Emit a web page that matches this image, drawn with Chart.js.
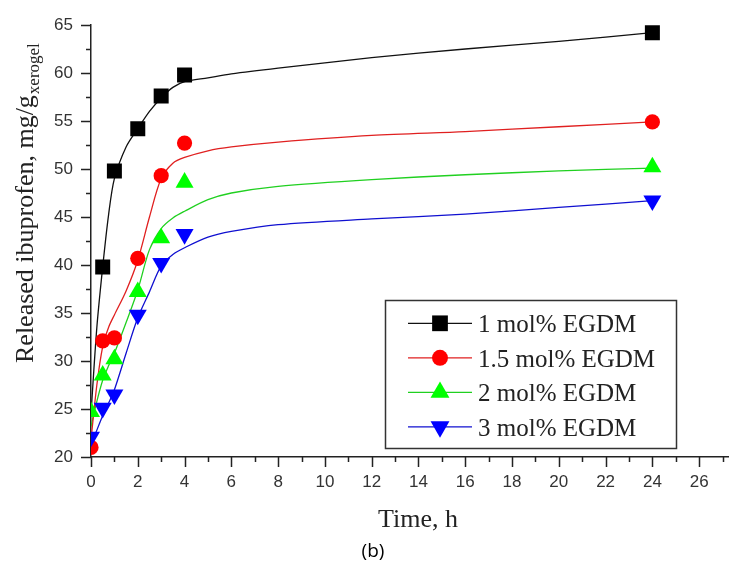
<!DOCTYPE html>
<html><head><meta charset="utf-8">
<script src="https://cdn.jsdelivr.net/npm/chart.js@4.4.1/dist/chart.umd.min.js"></script>
<style>html,body{margin:0;padding:0;background:#fff;}#wrap{width:739px;height:565px;}</style>
</head><body><div id="wrap"><canvas id="c" width="739" height="565"></canvas></div>
<script>
// ---- data ----
const seriesLabels = ['1 mol% EGDM', '1.5 mol% EGDM', '2 mol% EGDM', '3 mol% EGDM'];
const sampleTimes = [0, 0.5, 1, 2, 3, 4, 24];
const egdm1   = [null, 39.8, 49.8, 54.2, 57.6, 59.8, 64.2];
const egdm15  = [21.0, 32.1, 32.4, 40.7, 49.3, 52.7, 54.9];
const egdm2   = [24.7, 28.5, 30.2, 37.2, 42.8, 48.6, 50.2];
const egdm3   = [22.1, 25.1, 26.5, 34.8, 40.2, 43.2, 46.7];

// fitted curves
const fitTimes = [0, 0.25, 0.5, 0.75, 1, 1.5, 2, 2.5, 3, 3.5, 4, 5, 6, 8, 12, 16, 20, 24];
const fit1  = [24.5, 33.5, 39.8, 45.2, 49.0, 52.3, 54.2, 56.0, 57.4, 58.5, 59.1, 59.5, 59.9, 60.5, 61.6, 62.5, 63.3, 64.2];
const fit15 = [21.8, 27.5, 31.5, 33.5, 34.8, 37.3, 40.5, 45.0, 49.0, 50.6, 51.2, 51.9, 52.3, 52.8, 53.5, 53.9, 54.4, 54.9];
const fit2  = [23.2, 25.8, 28.0, 29.5, 30.8, 34.0, 37.4, 41.6, 43.8, 44.9, 45.6, 46.8, 47.5, 48.2, 48.9, 49.4, 49.8, 50.1];
const fit3  = [21.2, 22.8, 24.3, 25.6, 27.0, 30.8, 34.5, 37.2, 39.9, 41.1, 41.8, 42.9, 43.5, 44.2, 44.8, 45.3, 46.0, 46.7];

const xTickValues  = [0, 2, 4, 6, 8, 10, 12, 14, 16, 18, 20, 22, 24, 26];
const xMinorValues = [1, 3, 5, 7, 9, 11, 13, 15, 17, 19, 21, 23, 25, 27];
const yTickValues  = [20, 25, 30, 35, 40, 45, 50, 55, 60, 65];
const yMinorValues = [22.5, 27.5, 32.5, 37.5, 42.5, 47.5, 52.5, 57.5, 62.5];

const xTitle = 'Time, h';
const yTitleMain = 'Released ibuprofen, mg/g';
const yTitleSub = 'xerogel';
const caption = '(b)';

// ---- styles ----
const lineColors = ['#111111', '#e02020', '#20d020', '#1010d0'];
const markColors = ['#000000', '#ff0000', '#00ff00', '#0000ff'];
const markStyles = ['rect', 'circle', 'triangle', 'triangle'];
const markRot = [0, 0, 0, 180];
const markRadius = [10.6, 7.6, 10.4, 10.4];

const toPts = (xs, ys) => xs.map((x, i) => ({x: x, y: ys[i]})).filter(p => p.y !== null);
const fits = [fit1, fit15, fit2, fit3];
const samples = [egdm1, egdm15, egdm2, egdm3];

const datasets = [];
fits.forEach((f, i) => {
  datasets.push({
    type: 'line', label: seriesLabels[i] + ' fit', data: toPts(fitTimes, f),
    borderColor: lineColors[i], borderWidth: 1.3, pointRadius: 0, fill: false,
    tension: 0.3, order: 10
  });
});
samples.forEach((s, i) => {
  datasets.push({
    type: 'scatter', label: seriesLabels[i], data: toPts(sampleTimes, s),
    showLine: false, pointStyle: markStyles[i], pointRotation: markRot[i],
    pointRadius: markRadius[i], pointBackgroundColor: markColors[i],
    pointBorderWidth: 0, borderColor: markColors[i], backgroundColor: markColors[i],
    order: 4 - i
  });
});

function drawMarker(ctx, style, r, rot, x, y, color) {
  ctx.save();
  ctx.fillStyle = color;
  if (Chart.helpers && Chart.helpers.drawPoint) {
    Chart.helpers.drawPoint(ctx, {pointStyle: style, radius: r, rotation: rot, borderWidth: 0}, x, y);
  }
  ctx.restore();
}

const decor = {
  id: 'decor',
  beforeDraw(chart) {
    const ctx = chart.ctx;
    ctx.save(); ctx.fillStyle = '#fff'; ctx.fillRect(0, 0, chart.width, chart.height); ctx.restore();
  },
  afterDraw(chart) {
    const ctx = chart.ctx;
    const xs = chart.scales.x, ys = chart.scales.y;
    const ca = chart.chartArea;
    ctx.save();
    ctx.strokeStyle = '#222'; ctx.lineWidth = 1.5;
    ctx.beginPath();
    xTickValues.forEach(v => { const p = Math.round(xs.getPixelForValue(v)) + 0.5; ctx.moveTo(p, ca.bottom); ctx.lineTo(p, ca.bottom + 10); });
    xMinorValues.forEach(v => { const p = Math.round(xs.getPixelForValue(v)) + 0.5; ctx.moveTo(p, ca.bottom); ctx.lineTo(p, ca.bottom + 5); });
    yTickValues.forEach(v => { const p = Math.round(ys.getPixelForValue(v)) + 0.5; ctx.moveTo(ca.left, p); ctx.lineTo(ca.left - 10, p); });
    yMinorValues.forEach(v => { const p = Math.round(ys.getPixelForValue(v)) + 0.5; ctx.moveTo(ca.left, p); ctx.lineTo(ca.left - 5, p); });
    ctx.stroke();

    // axis titles
    ctx.fillStyle = '#222';
    ctx.font = '26px "Liberation Serif", "Times New Roman", serif';
    ctx.textAlign = 'center'; ctx.textBaseline = 'alphabetic';
    ctx.fillText(xTitle, 418, 527);

    ctx.save();
    ctx.translate(33, 363);
    ctx.rotate(-Math.PI / 2);
    ctx.textAlign = 'left';
    ctx.font = '26px "Liberation Serif", "Times New Roman", serif';
    ctx.fillText(yTitleMain, 0, 0);
    const w = ctx.measureText(yTitleMain).width;
    ctx.font = '17px "Liberation Serif", "Times New Roman", serif';
    ctx.fillText(yTitleSub, w + 1, 6);
    ctx.restore();

    // caption
    ctx.fillStyle = '#000';
    ctx.font = '19px "Open Sans", "Liberation Sans", sans-serif';
    ctx.textAlign = 'center'; ctx.textBaseline = 'middle';
    ctx.fillText(caption, 373, 552);

    // legend box
    const bx = 385, by = 300, bw = 291, bh = 148;
    ctx.strokeStyle = '#333'; ctx.lineWidth = 1.5;
    ctx.strokeRect(bx + 0.5, by + 0.5, bw, bh);
    seriesLabels.forEach((lab, i) => {
      const ry = by + 23.3 + i * 34.5;
      ctx.strokeStyle = lineColors[i]; ctx.lineWidth = 1.3;
      ctx.beginPath(); ctx.moveTo(408, ry); ctx.lineTo(472, ry); ctx.stroke();
      drawMarker(ctx, markStyles[i], markRadius[i] * 1.05, markRot[i], 440, ry, markColors[i]);
      ctx.fillStyle = '#222';
      ctx.font = '25px "Liberation Serif", "Times New Roman", serif';
      ctx.textAlign = 'left'; ctx.textBaseline = 'alphabetic';
      ctx.fillText(lab, 478, ry + 9);
    });
    ctx.restore();
  }
};

new Chart(document.getElementById('c'), {
  data: {datasets: datasets},
  options: {
    responsive: false, animation: false, devicePixelRatio: 1,
    layout: {padding: {top: 25, right: 1, left: 0, bottom: 0}},
    plugins: {legend: {display: false}, tooltip: {enabled: false}, title: {display: false}},
    scales: {
      x: {
        type: 'linear', min: 0, max: 27.25,
        afterBuildTicks: s => { s.ticks = xTickValues.map(v => ({value: v})); },
        afterFit: s => { s.height = 108; },
        grid: {display: true, drawOnChartArea: false, drawTicks: true, tickLength: 10, color: 'rgba(0,0,0,0)'},
        border: {display: true, color: '#222', width: 1.5},
        ticks: {autoSkip: false, maxRotation: 0, padding: 5, color: '#333',
          font: {family: '"Liberation Sans", Arial, sans-serif', size: 17}}
      },
      y: {
        type: 'linear', min: 20, max: 65,
        afterBuildTicks: s => { s.ticks = yTickValues.map(v => ({value: v})); },
        afterFit: s => { s.width = 91; },
        grid: {display: true, drawOnChartArea: false, drawTicks: true, tickLength: 10, color: 'rgba(0,0,0,0)'},
        border: {display: true, color: '#222', width: 1.5},
        ticks: {autoSkip: false, padding: 8, color: '#333',
          font: {family: '"Liberation Sans", Arial, sans-serif', size: 17}}
      }
    }
  },
  plugins: [decor]
});
</script>
</body></html>
